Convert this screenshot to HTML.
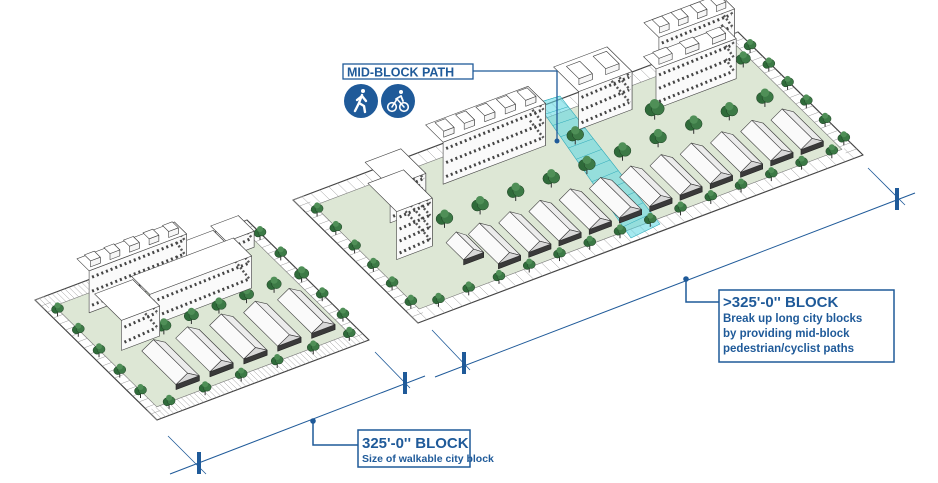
<!DOCTYPE html>
<html><head><meta charset="utf-8">
<style>
html,body{margin:0;padding:0;background:#fff;}
svg{display:block;}
text{font-family:"Liberation Sans",Arial,sans-serif;font-weight:bold;fill:#1f5a99;}
</style></head>
<body>
<svg id="s" width="938" height="483" viewBox="0 0 938 483" xmlns="http://www.w3.org/2000/svg">
<g id="scene"></g>
<g id="ann">
  <line x1="170" y1="474" x2="425" y2="376" stroke="#1f5a99" stroke-width="1"/>
  <line x1="168" y1="436" x2="206" y2="474" stroke="#1f5a99" stroke-width="0.8"/>
  <line x1="375" y1="352" x2="410" y2="388" stroke="#1f5a99" stroke-width="0.8"/>
  <rect x="197" y="452" width="4" height="22" fill="#1f5a99"/>
  <rect x="403" y="372" width="4" height="22" fill="#1f5a99"/>
  <circle cx="313" cy="421" r="2.8" fill="#1f5a99"/>
  <polyline points="313,421 313,445 358,445" fill="none" stroke="#1f5a99" stroke-width="1.5"/>
  <rect x="358" y="430" width="112" height="37" fill="#fff" stroke="#1f5a99" stroke-width="1.5"/>
  <text x="362" y="448" font-size="15">325'-0'' BLOCK</text>
  <text x="362" y="462" font-size="10.5">Size of walkable city block</text>
  <line x1="435" y1="377" x2="915" y2="193" stroke="#1f5a99" stroke-width="1"/>
  <line x1="432" y1="330" x2="470" y2="370" stroke="#1f5a99" stroke-width="0.8"/>
  <line x1="868" y1="168" x2="905" y2="205" stroke="#1f5a99" stroke-width="0.8"/>
  <rect x="462" y="352" width="4" height="22" fill="#1f5a99"/>
  <rect x="895" y="188" width="4" height="22" fill="#1f5a99"/>
  <circle cx="686" cy="279" r="2.8" fill="#1f5a99"/>
  <polyline points="686,279 686,302 719,302" fill="none" stroke="#1f5a99" stroke-width="1.5"/>
  <rect x="719" y="290" width="175" height="72" fill="#fff" stroke="#1f5a99" stroke-width="1.5"/>
  <text x="723" y="307" font-size="15">&gt;325'-0'' BLOCK</text>
  <text x="723" y="322" font-size="11.5">Break up long city blocks</text>
  <text x="723" y="337" font-size="11.5">by providing mid-block</text>
  <text x="723" y="352" font-size="11.5">pedestrian/cyclist paths</text>
  <polyline points="473,71 557,71 557,141" fill="none" stroke="#1f5a99" stroke-width="1.3"/>
  <circle cx="557" cy="141" r="2.5" fill="#1f5a99"/>
  <rect x="343" y="64" width="130" height="15" fill="#fff" stroke="#1f5a99" stroke-width="1.3"/>
  <text x="347" y="76.5" font-size="12.5">MID-BLOCK PATH</text>
  <circle cx="361" cy="101" r="17" fill="#1f5a99"/>
  <circle cx="398" cy="101" r="17" fill="#1f5a99"/>
  <g stroke="#fff" stroke-width="2.4" fill="none" stroke-linecap="round" stroke-linejoin="round">
    <circle cx="363" cy="91" r="2" fill="#fff" stroke="none"/>
    <polyline points="362,95 359,103 355,111"/>
    <polyline points="359,103 364,106 365,112"/>
    <polyline points="357,100 362,96 366,101"/>
    <circle cx="392" cy="107" r="4.3" stroke-width="1.6"/>
    <circle cx="404" cy="107" r="4.3" stroke-width="1.6"/>
    <polyline points="392,107 397,99 404,107" stroke-width="1.6"/>
    <polyline points="396,99 401,96 403,101" stroke-width="1.8"/>
    <circle cx="401" cy="92" r="2" fill="#fff" stroke="none"/>
  </g>
</g>
</svg>
<script>
var g=document.getElementById('scene');var NS='http://www.w3.org/2000/svg';
function el(t,a){var e=document.createElementNS(NS,t);for(var k in a)e.setAttribute(k,a[k]);g.appendChild(e);return e;}
function mk(L,U,V){return function(a,b){return [L[0]+a*U[0]+b*V[0],L[1]+a*U[1]+b*V[1]];};}
function pts(arr){return arr.map(function(p){return p[0].toFixed(1)+','+p[1].toFixed(1);}).join(' ');}
function up(p,h){return [p[0],p[1]-h];}
function poly(arr,f,s,sw){el('polygon',{points:pts(arr),fill:f,stroke:s||'#555','stroke-width':sw||0.6,'stroke-linejoin':'round'});}
var LB=mk([35,300],[212,-80],[122,120]);
var RB=mk([293,200],[445,-168],[125,123]);
var items=[];
function block(P,iu,iv){
  poly([P(0,0),P(1,0),P(1,1),P(0,1)],'#fff','#444',1.2);
  poly([P(iu,iv),P(1-iu,iv),P(1-iu,1-iv),P(iu,1-iv)],'#dde7d5','#777',0.6);
  for(var a=0.0;a<=1;a+=0.02){el('line',{x1:P(a,1-iv)[0],y1:P(a,1-iv)[1],x2:P(a,1)[0],y2:P(a,1)[1],stroke:'#999','stroke-width':0.5});
    el('line',{x1:P(a,0)[0],y1:P(a,0)[1],x2:P(a,iv)[0],y2:P(a,iv)[1],stroke:'#999','stroke-width':0.5});}
  for(var b=0.0;b<=1;b+=0.05){el('line',{x1:P(0,b)[0],y1:P(0,b)[1],x2:P(iu,b)[0],y2:P(iu,b)[1],stroke:'#999','stroke-width':0.5});
    el('line',{x1:P(1-iu,b)[0],y1:P(1-iu,b)[1],x2:P(1,b)[0],y2:P(1,b)[1],stroke:'#999','stroke-width':0.5});}
}
function box(P,a0,b0,a1,b1,h,bump){items.push({y:P((a0+a1)/2,b1)[1],f:function(){
  var A=P(a0,b0),B=P(a1,b0),C=P(a1,b1),D=P(a0,b1);
  poly([B,C,up(C,h),up(B,h)],'#e6e6e6','#444');
  poly([D,C,up(C,h),up(D,h)],'#fafafa','#444');
  var fl=Math.floor(h/11);
  for(var i=0;i<fl;i++){var t=(i+0.55)*h/fl;
    el('line',{x1:D[0]+3,y1:D[1]-t,x2:C[0]-3,y2:C[1]-t,stroke:'#444','stroke-width':3,'stroke-dasharray':'2 3'});
    el('line',{x1:B[0]+2,y1:B[1]-t,x2:C[0]-2,y2:C[1]-t,stroke:'#555','stroke-width':2.5,'stroke-dasharray':'2 2'});}
  poly([up(A,h),up(B,h),up(C,h),up(D,h)],'#fff','#444');
  if(bump){var n=bump;for(var j=0;j<n;j++){var s0=a0+(a1-a0)*(j+0.2)/n,s1=a0+(a1-a0)*(j+0.7)/n;
    var bb0=b0+(b1-b0)*0.3,bb1=b0+(b1-b0)*0.8,hh=6;
    var A2=up(P(s0,bb0),h),B2=up(P(s1,bb0),h),C2=up(P(s1,bb1),h),D2=up(P(s0,bb1),h);
    poly([B2,C2,up(C2,hh),up(B2,hh)],'#e6e6e6','#444');
    poly([D2,C2,up(C2,hh),up(D2,hh)],'#f6f6f6','#444');
    poly([up(A2,hh),up(B2,hh),up(C2,hh),up(D2,hh)],'#fff','#444');}}
}});}
function house(P,a0,b0,a1,b1){items.push({y:P((a0+a1)/2,b1)[1],f:function(){
  var A=P(a0,b0),B=P(a1,b0),C=P(a1,b1),D=P(a0,b1),h=5,hr=12;
  var R0=up([(A[0]+B[0])/2,(A[1]+B[1])/2],hr),R1=up([(D[0]+C[0])/2,(D[1]+C[1])/2],hr);
  poly([B,C,up(C,h),up(B,h)],'#666','#333');
  poly([D,C,up(C,h),up(D,h)],'#3a3a3a','#222');
  poly([up(A,h),up(D,h),R1,R0],'#fafafa','#444');
  poly([up(B,h),up(C,h),R1,R0],'#ececec','#444');
  poly([up(D,h),up(C,h),R1],'#d8d8d8','#333');
}});}
function tree(P,a,b,r){var p=P(a,b);r=r||6;items.push({y:p[1],f:function(){
  el('line',{x1:p[0],y1:p[1],x2:p[0],y2:p[1]-r-2,stroke:'#333','stroke-width':1});
  el('circle',{cx:p[0]-r*0.4,cy:p[1]-r-2,r:r*0.8,fill:'#2f6b3a',stroke:'#1f3f24','stroke-width':0.5});
  el('circle',{cx:p[0]+r*0.4,cy:p[1]-r-3,r:r*0.8,fill:'#3c7a46',stroke:'#1f3f24','stroke-width':0.5});
  el('circle',{cx:p[0],cy:p[1]-r*1.6-3,r:r*0.6,fill:'#4f8f57'});
}});}
// LEFT BLOCK
block(LB,0.045,0.08);
box(LB,0.14,0.1,0.6,0.2,42,5);
box(LB,0.6,0.07,0.8,0.22,14);
box(LB,0.8,0.05,0.93,0.18,16);
box(LB,0.3,0.27,0.78,0.42,32);
box(LB,0.12,0.28,0.3,0.5,30);
for(var i=0;i<5;i++){house(LB,0.17+i*0.16,0.58,0.28+i*0.16,0.86);}
for(var i=0;i<6;i++){tree(LB,0.32+i*0.13,0.5);}
for(var i=0;i<6;i++){tree(LB,0.08+i*0.17,0.96,5);}
for(var b=0.15;b<1;b+=0.17){tree(LB,0.02,b,5);tree(LB,0.975,b,5);}
// RIGHT BLOCK
block(RB,0.025,0.08);
poly([[537,103],[560,96],[660,224],[631,238]],'rgba(90,215,225,0.55)','#2aa9b8',0.6);
for(var k=0;k<12;k++){var t=k/12;el('line',{x1:537+t*94,y1:103+t*135,x2:560+t*100,y2:96+t*128,stroke:'#2aa9b8','stroke-width':0.5});}
box(RB,0.07,0.35,0.15,0.58,48);
box(RB,0.12,0.15,0.2,0.35,36);
box(RB,0.27,0.1,0.5,0.24,42,5);
box(RB,0.58,0.02,0.7,0.22,38,2);
box(RB,0.78,0.03,0.95,0.15,50,4);
box(RB,0.74,0.17,0.92,0.27,40,3);
house(RB,0.17,0.62,0.215,0.76);
for(var i=0;i<11;i++){house(RB,0.22+i*0.068,0.62,0.27+i*0.068,0.86);}
for(var i=0;i<14;i++){tree(RB,0.06+i*0.068,0.95,5);}
for(var i=0;i<10;i++){tree(RB,0.2+i*0.08,0.5,7);}
for(var b=0.15;b<1;b+=0.15){tree(RB,0.012,b,5);tree(RB,0.985,b,5);}
tree(RB,0.95,0.22,6);tree(RB,0.55,0.3,7);tree(RB,0.72,0.33,8);
items.sort(function(a,b){return a.y-b.y;}).forEach(function(it){it.f();});
</script>
</body></html>
